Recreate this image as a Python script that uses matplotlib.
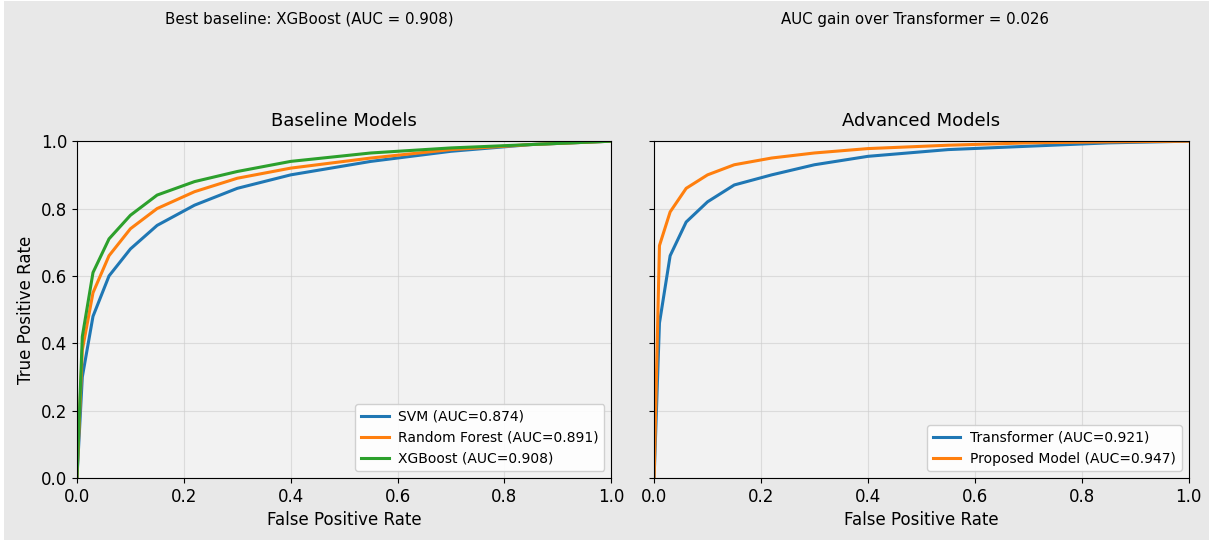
import matplotlib.pyplot as plt
from matplotlib.patches import Rectangle

# ROC points
base_fpr = [0.0, 0.01, 0.03, 0.06, 0.10, 0.15, 0.22, 0.30, 0.40, 0.55, 0.70, 0.85, 1.0]
svm_tpr = [0.0, 0.30, 0.48, 0.60, 0.68, 0.75, 0.81, 0.86, 0.90, 0.94, 0.97, 0.99, 1.0]
rf_tpr = [0.0, 0.38, 0.55, 0.66, 0.74, 0.80, 0.85, 0.89, 0.92, 0.95, 0.975, 0.99, 1.0]
xgb_tpr = [0.0, 0.42, 0.61, 0.71, 0.78, 0.84, 0.88, 0.91, 0.94, 0.965, 0.98, 0.99, 1.0]

adv_fpr = [0.0, 0.01, 0.03, 0.06, 0.10, 0.15, 0.22, 0.30, 0.40, 0.55, 0.70, 0.85, 1.0]
trans_tpr = [0.0, 0.46, 0.66, 0.76, 0.82, 0.87, 0.90, 0.93, 0.955, 0.975, 0.985, 0.995, 1.0]
prop_tpr = [0.0, 0.69, 0.79, 0.86, 0.90, 0.93, 0.95, 0.965, 0.978, 0.988, 0.995, 0.998, 1.0]

baseline_labels = ['SVM (AUC=0.874)', 'Random Forest (AUC=0.891)', 'XGBoost (AUC=0.908)']
advanced_labels = ['Transformer (AUC=0.921)', 'Proposed Model (AUC=0.947)']
ticks = [0.0, 0.2, 0.4, 0.6, 0.8, 1.0]

fig, (ax1, ax2) = plt.subplots(1, 2, figsize=(12.14, 5.43), dpi=100, sharey=True)
fig.patch.set_facecolor('white')
fig.patches.append(Rectangle((0.003, 0.006), 0.993, 0.992, transform=fig.transFigure,
                             facecolor='#e8e8e8', edgecolor='none', zorder=-10))
fig.subplots_adjust(left=0.0634, right=0.979, bottom=0.1197, top=0.740, wspace=0.08)

ax1.plot(base_fpr, svm_tpr, lw=2.2, color='#1f77b4', label=baseline_labels[0])
ax1.plot(base_fpr, rf_tpr, lw=2.2, color='#ff7f0e', label=baseline_labels[1])
ax1.plot(base_fpr, xgb_tpr, lw=2.2, color='#2ca02c', label=baseline_labels[2])
ax1.set_title('Baseline Models', fontsize=13, pad=11)
ax1.set_ylabel('True Positive Rate', fontsize=12)

ax2.plot(adv_fpr, trans_tpr, lw=2.2, color='#1f77b4', label=advanced_labels[0])
ax2.plot(adv_fpr, prop_tpr, lw=2.2, color='#ff7f0e', label=advanced_labels[1])
ax2.set_title('Advanced Models', fontsize=13, pad=11)

for ax in (ax1, ax2):
    ax.set_facecolor('#f2f2f2')
    ax.set_xlim(0, 1)
    ax.set_ylim(0, 1)
    ax.set_xticks(ticks)
    ax.set_yticks(ticks)
    ax.tick_params(labelsize=12)
    ax.grid(True, color='#cccccc', alpha=0.6, lw=0.8)
    ax.set_xlabel('False Positive Rate', fontsize=12)
    ax.legend(loc='lower right', fontsize=10, facecolor='white', framealpha=0.9,
              handlelength=2.0, handletextpad=0.7)

fig.text(0.255, 0.965, 'Best baseline: XGBoost (AUC = 0.908)', ha='center', va='center', fontsize=10.8)
fig.text(0.754, 0.965, 'AUC gain over Transformer = 0.026', ha='center', va='center', fontsize=10.8)

fig.savefig('out.png', dpi=100, facecolor=fig.get_facecolor())
